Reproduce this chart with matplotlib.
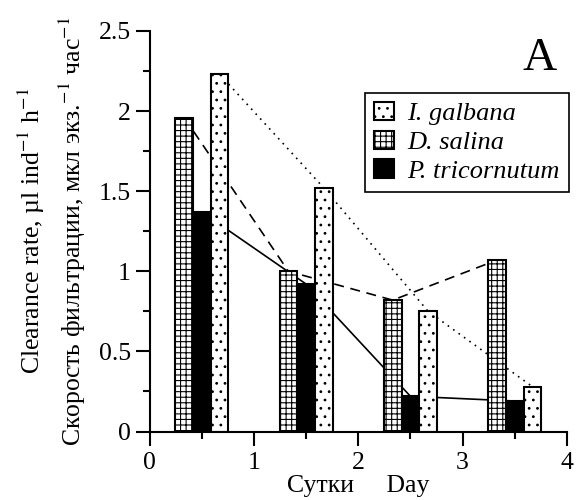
import matplotlib.pyplot as plt
import numpy as np
from matplotlib.ticker import MultipleLocator

plt.rcParams["font.family"] = ["Liberation Serif", "DejaVu Serif"]
plt.rcParams["mathtext.fontset"] = "stix"
plt.rcParams["hatch.linewidth"] = 0.8

days = np.array([0.5, 1.5, 2.5, 3.5])
species = ["I. galbana", "D. salina", "P. tricornutum"]
galbana = [2.23, 1.52, 0.75, 0.28]
salina = [1.96, 1.00, 0.82, 1.07]
tricornutum = [1.37, 0.92, 0.22, 0.19]

width = 0.17
FS = 18.5

fig = plt.figure(figsize=(5.76, 5.0), dpi=100)
ax = fig.add_axes([0.260, 0.137, 0.724, 0.801])

# connecting lines (behind the bars)
ax.plot(days - width, salina, color="black", ls=(0, (6, 4)), lw=1.2, zorder=1)
ax.plot(days, tricornutum, color="black", ls="-", lw=1.2, zorder=1)
ax.plot(days + width, galbana, color="black", ls=(0, (1, 3)), lw=1.2, zorder=1)

b_sal = ax.bar(days - width, salina, width, color="white", edgecolor="black",
               hatch="+++", lw=1.5, zorder=2, label=species[1])
b_tri = ax.bar(days, tricornutum, width, color="black", edgecolor="black",
               lw=1.5, zorder=2, label=species[2])
b_gal = ax.bar(days + width, galbana, width, color="white", edgecolor="black",
               hatch="..", lw=1.5, zorder=2, label=species[0])

ax.set_xlim(0, 4)
ax.set_ylim(0, 2.5)
ax.xaxis.set_minor_locator(MultipleLocator(0.5))
ax.yaxis.set_minor_locator(MultipleLocator(0.25))
ax.set_xticks([0, 1, 2, 3, 4], ["0", "1", "2", "3", "4"])
ax.set_yticks([0, 0.5, 1, 1.5, 2, 2.5], ["0", "0.5", "1", "1.5", "2", "2.5"])
ax.tick_params(which="major", direction="out", length=10, width=1.5, labelsize=FS)
ax.tick_params(axis="x", which="major", pad=5)
ax.tick_params(which="minor", direction="out", length=5, width=1.5)
ax.spines["top"].set_visible(False)
ax.spines["right"].set_visible(False)
ax.spines["left"].set_linewidth(1.5)
ax.spines["bottom"].set_linewidth(1.5)

leg = ax.legend([b_gal, b_sal, b_tri], species, loc="upper right",
                bbox_to_anchor=(1.005, 0.846), borderaxespad=0,
                prop={"style": "italic", "size": 19}, frameon=True,
                fancybox=False, edgecolor="black", framealpha=1,
                handlelength=0.75, handleheight=0.7, handletextpad=0.5,
                labelspacing=0.2, borderpad=0.35)
leg.get_frame().set_linewidth(1.2)

ax.text(0.935, 0.93, "A", transform=ax.transAxes, fontsize=34,
        ha="center", va="center")

fig.text(0.054, 0.538, r"Clearance rate, µl ind$^{-1}$ h$^{-1}$",
         rotation=90, ha="center", va="center", fontsize=FS)
fig.text(0.125, 0.538, r"Скорость фильтрации, мкл экз.$^{-1}$ час$^{-1}$",
         rotation=90, ha="center", va="center", fontsize=FS)
fig.text(0.622, 0.016, "Сутки     Day", ha="center", va="baseline", fontsize=FS)

fig.savefig("out.png", dpi=100)
